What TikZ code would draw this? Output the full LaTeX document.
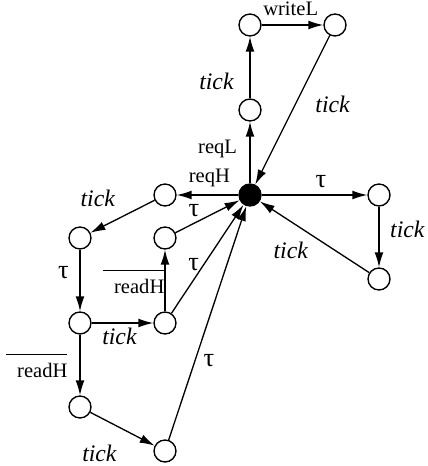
\documentclass[tikz,border=0pt]{standalone}
\usepackage{fontspec}
\setmainfont{Liberation Serif}
\usetikzlibrary{arrows.meta,positioning}

\newcommand{\tk}{\fontsize{13.5}{16}\selectfont\itshape tick}
\newcommand{\tu}{\fontsize{15}{17}\selectfont τ}
\newcommand{\rdH}{\vbox{\hrule height 0.6pt\kern4.5pt\hbox to 35pt{\hfill readH}}}

\begin{document}
\begin{tikzpicture}[x=0.02cm, y=-0.02cm, >={Latex[length=8.5pt,width=5pt]},
    st/.style={circle, draw, line width=0.8pt, minimum size=12.5pt, inner sep=0pt},
    hub/.style={st, fill=black},
    lbl/.style={inner sep=1pt, font=\fontsize{11.7}{14}\selectfont},
    every path/.style={line width=0.75pt}]
            \useasboundingbox (0,0) rectangle (427,466);
            % ==== STATES ====
            \node[hub] (c)  at (250,195) {};
            \node[st]  (rl) at (250,110) {};
            \node[st]  (w1) at (250,25)  {};
            \node[st]  (w2) at (335,25)  {};
            \node[st]  (r1) at (379,195) {};
            \node[st]  (r2) at (379,279) {};
            \node[st]  (h1) at (165,195) {};
            \node[st]  (h2) at (165,238) {};
            \node[st]  (a1) at (80,238)  {};
            \node[st]  (b1) at (80,323)  {};
            \node[st]  (b2) at (165,323) {};
            \node[st]  (c1) at (80,407)  {};
            \node[st]  (c2) at (165,451) {};

            % ==== LOW LOOP ====
            \draw[->] (c) -- (rl) node[lbl, pos=0.56, left=6pt] {reqL};
            \draw[->] (rl) -- (w1) node[lbl, pos=0.27, left=8pt] {\tk};
            \draw[->] (w1) -- (w2) node[lbl, pos=0.47, above=4pt] {writeL};
            \draw[->] (w2) -- (c) node[lbl, pos=0.46, right=10pt] {\tk};

            % ==== TAU LOOP ====
            \draw[->] (c) -- (r1) node[lbl, pos=0.56, above=3pt] {\tu};
            \draw[->] (r1) -- (r2) node[lbl, pos=0.37, right=5pt] {\tk};
            \draw[->] (r2) -- (c) node[lbl, pos=0.51, below left=2.5pt] {\tk};

            % ==== HIGH LOOP ====
            \draw[->] (c) -- (h1) node[lbl, pos=0.47, above=3pt] {reqH};
            \draw[->] (h1) -- (a1) node[lbl, pos=0.5, above left=4pt and 3pt] {\tk};
            \draw[->] (a1) -- (b1) node[lbl, pos=0.37, left=5pt] {\tu};
            \draw[->] (b1) -- (b2) node[lbl, pos=0.45, below=1.5pt] {\tk};
            \draw[->] (b2) -- (h2) node[lbl, pos=0.48, left=-1pt] {\rdH};
            \draw[->] (h2) -- (c) node[lbl, pos=0.29, above=2.5pt] {\tu};
            \draw[->] (b2) -- (c) node[lbl, pos=0.45, left=1.5pt] {\tu};
            \draw[->] (b1) -- (c1) node[lbl, pos=0.51, left=5.8pt] {\rdH};
            \draw[->] (c1) -- (c2) node[lbl, pos=0.54, below left=7pt and 3.5pt] {\tk};
            \draw[->] (c2) -- (c) node[lbl, pos=0.34, right=3.5pt] {\tu};
         \end{tikzpicture}
\end{document}
